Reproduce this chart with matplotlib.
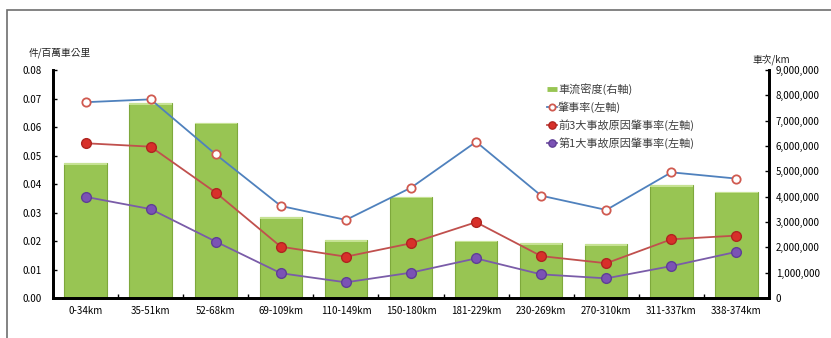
import numpy as np
import matplotlib.pyplot as plt
from matplotlib.patches import Rectangle
from matplotlib.lines import Line2D
from matplotlib.ticker import FuncFormatter

plt.rcParams['font.family'] = ['Noto Sans CJK TC', 'DejaVu Sans']

segments = ['0-34km', '35-51km', '52-68km', '69-109km', '110-149km', '150-180km',
            '181-229km', '230-269km', '270-310km', '311-337km', '338-374km']
traffic = [5320000, 7690000, 6920000, 3190000, 2290000, 4000000,
           2260000, 2160000, 2120000, 4460000, 4200000]
accident_rate = [0.0687, 0.0697, 0.0504, 0.0323, 0.0274, 0.0387,
                 0.0548, 0.0359, 0.0309, 0.0441, 0.0419]
top3_rate = [0.0543, 0.0531, 0.0370, 0.0180, 0.0145, 0.0192,
             0.0266, 0.0147, 0.0122, 0.0206, 0.0219]
top1_rate = [0.0355, 0.0312, 0.0198, 0.0087, 0.0055, 0.0089,
             0.0139, 0.0083, 0.0069, 0.0112, 0.0162]

x = np.arange(len(segments))

fig = plt.figure(figsize=(8.31, 3.38), dpi=100)
# outer frame of the original picture
fig.patches.append(Rectangle((7 / 831, -0.1), 1.2, 1 - 10 / 338 + 0.1, transform=fig.transFigure,
                             fill=False, edgecolor='#6e6e6e', linewidth=1.2))

ax = fig.add_axes([0.0638, 0.1183, 0.8616, 0.6746])
ax2 = ax.twinx()
ax.set_zorder(2)
ax.patch.set_visible(False)

# bars on the right axis
ax2.bar(x, traffic, width=0.65, color='#98c553', edgecolor='#7ea83c', linewidth=0.8)
ax2.bar(x, [60000] * len(traffic), bottom=[t - 60000 for t in traffic], width=0.65,
        color='#c6e293', linewidth=0)
ax2.set_ylim(0, 9000000)
ax2.set_yticks(np.arange(0, 9000001, 1000000))
ax2.yaxis.set_major_formatter(FuncFormatter(lambda v, p: f'{int(v):,}'))

# lines on the left axis
l1, = ax.plot(x, accident_rate, color='#4f81bd', lw=1.3, marker='o', ms=6,
              mfc='white', mec='#d05a50', mew=1.3)
l2, = ax.plot(x, top3_rate, color='#c0504d', lw=1.3, marker='o', ms=7,
              mfc='#d8302a', mec='#b02520')
l3, = ax.plot(x, top1_rate, color='#7a5ca8', lw=1.3, marker='o', ms=7,
              mfc='#7b52b5', mec='#5f3f95')
ax.set_ylim(0, 0.08)
ax.set_yticks(np.arange(0, 0.0801, 0.01))
ax.yaxis.set_major_formatter(FuncFormatter(lambda v, p: f'{v:.2f}'))
ax.set_xlim(-0.5, len(segments) - 0.5)
ax.set_xticks(x)
ax.set_xticklabels(segments)
ax.set_xticks(np.arange(-0.5, len(segments)), minor=True)
ax.tick_params(axis='x', which='major', length=0, labelsize=7, pad=6)
ax.tick_params(axis='x', which='minor', direction='in', length=3, width=1)
ax.tick_params(axis='y', direction='in', length=3, width=1, labelsize=7, pad=8)
ax2.tick_params(axis='y', direction='in', length=3, width=1, labelsize=7, pad=5)

for a in (ax, ax2):
    a.spines['top'].set_visible(False)
    a.spines['left'].set_linewidth(2)
    a.spines['right'].set_linewidth(2)
    a.spines['bottom'].set_linewidth(2)

fig.text(60 / 831, 1 - 53 / 338, '件/百萬車公里', fontsize=7, ha='center', va='center', color='#222222')
fig.text(771 / 831, 1 - 60 / 338, '車次/km', fontsize=7, ha='center', va='center', color='#222222')

bar_handle = Line2D([], [], color='#98c553', lw=3.5, solid_capstyle='butt')
handles = [bar_handle, l1, l2, l3]
labels = ['車流密度(右軸)', '肇事率(左軸)', '前3大事故原因肇事率(左軸)', '第1大事故原因肇事率(左軸)']
leg = ax.legend(handles, labels, loc='upper left', bbox_to_anchor=(0.676, 0.985), frameon=False,
                fontsize=8, handlelength=0.9, handletextpad=0.1, labelspacing=0.55, markerscale=0.75)
for t in leg.get_texts():
    t.set_color('#404040')

fig.savefig('out.png', dpi=100)
